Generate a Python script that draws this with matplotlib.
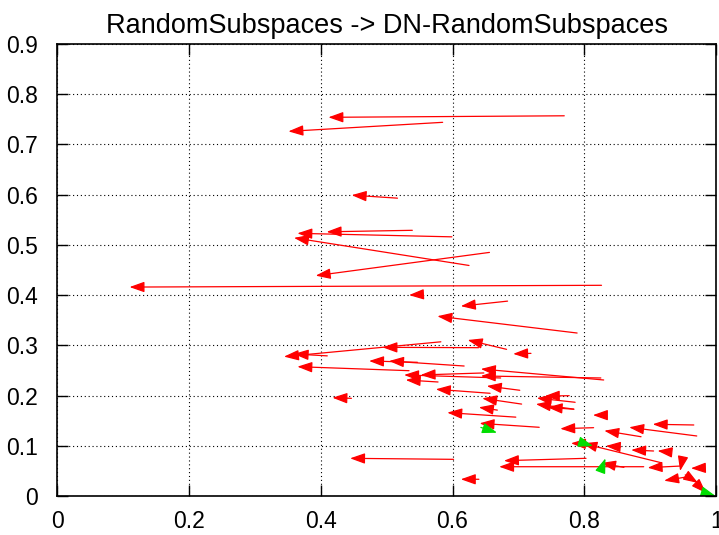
import matplotlib
matplotlib.use("Agg")
import matplotlib.pyplot as plt
from matplotlib.patches import FancyArrowPatch

plt.rcParams['font.family'] = ['Liberation Sans', 'DejaVu Sans']

# score before (tail) and after (head) for each dataset
red_x0 = [0.7695, 0.585, 0.5165, 0.539, 0.599, 0.625, 0.656, 0.826, 0.548, 0.6835,
          0.789, 0.682, 0.719, 0.6395, 0.5823, 0.410, 0.534, 0.6176, 0.5468, 0.8293,
          0.825, 0.6475, 0.673, 0.578, 0.657, 0.702, 0.777, 0.786, 0.784, 0.784,
          0.7048, 0.668, 0.696, 0.7315, 0.8325, 0.814, 0.886, 0.9705, 0.966, 0.810,
          0.9164, 0.855, 0.905, 0.925, 0.8025, 0.860, 0.890, 0.9467, 0.948, 0.977,
          0.957, 0.953, 0.977, 0.640, 0.6016, 0.4466]
red_y0 = [0.757, 0.744, 0.593, 0.529, 0.516, 0.459, 0.485, 0.4195, 0.401, 0.388,
          0.3245, 0.292, 0.284, 0.2953, 0.307, 0.279, 0.2495, 0.2588, 0.2662, 0.231,
          0.235, 0.245, 0.235, 0.227, 0.2045, 0.2105, 0.1997, 0.1866, 0.173, 0.1727,
          0.183, 0.171, 0.157, 0.1368, 0.161, 0.136, 0.118, 0.1195, 0.1414, 0.1035,
          0.0663, 0.0976, 0.0896, 0.088, 0.075, 0.057, 0.0583, 0.0597, 0.0677, 0.0558,
          0.0384, 0.042, 0.016, 0.0333, 0.073, 0.1945]
red_x1 = [0.4117, 0.351, 0.447, 0.409, 0.3646, 0.3595, 0.3924, 0.110, 0.534, 0.6126,
          0.577, 0.623, 0.692, 0.4937, 0.3443, 0.359, 0.3646, 0.5037, 0.4734, 0.643,
          0.643, 0.5516, 0.5265, 0.529, 0.5747, 0.652, 0.740, 0.728, 0.7265, 0.7443,
          0.645, 0.640, 0.592, 0.641, 0.813, 0.7634, 0.8302, 0.868, 0.9037, 0.7797,
          0.797, 0.8325, 0.871, 0.911, 0.678, 0.8253, 0.6707, 0.896, 0.9452, 0.9617,
          0.921, 0.9725, 0.9845, 0.6126, 0.4446, 0.4178]
red_y1 = [0.754, 0.726, 0.599, 0.526, 0.523, 0.514, 0.4387, 0.416, 0.400, 0.378,
          0.358, 0.3106, 0.283, 0.296, 0.2775, 0.2828, 0.2575, 0.2688, 0.2688, 0.2529,
          0.239, 0.241, 0.241, 0.231, 0.2125, 0.219, 0.199, 0.195, 0.183, 0.1766,
          0.1945, 0.1766, 0.166, 0.1447, 0.161, 0.134, 0.130, 0.1368, 0.1428, 0.1049,
          0.1049, 0.0996, 0.0916, 0.090, 0.0703, 0.0657, 0.0583, 0.0564, 0.0498, 0.0552,
          0.0305, 0.0259, 0.006, 0.0333, 0.075, 0.1957]

green_x0 = [0.643, 0.7995, 0.830, 0.989]
green_y0 = [0.1366, 0.1049, 0.068, 0.004]
green_x1 = [0.6675, 0.813, 0.832, 0.999]
green_y1 = [0.126, 0.0995, 0.075, 0.0]

xticks = [0, 0.2, 0.4, 0.6, 0.8, 1]
xticklabels = ['0', '0.2', '0.4', '0.6', '0.8', '1']
yticks = [0, 0.1, 0.2, 0.3, 0.4, 0.5, 0.6, 0.7, 0.8, 0.9]
yticklabels = ['0', '0.1', '0.2', '0.3', '0.4', '0.5', '0.6', '0.7', '0.8', '0.9']

fig = plt.figure(figsize=(7.19, 5.35), dpi=100)
ax = fig.add_axes([0.0793, 0.0729, 0.9168, 0.8449])


def draw_arrows(x0, y0, x1, y1, col):
    for a, b, c, d in zip(x0, y0, x1, y1):
        arr = FancyArrowPatch((a, b), (c, d),
                              arrowstyle='-|>,head_length=0.9,head_width=0.32',
                              mutation_scale=10, color=col, lw=0.9,
                              shrinkA=0, shrinkB=0)
        ax.add_patch(arr)


draw_arrows(red_x0, red_y0, red_x1, red_y1, '#ff0000')
draw_arrows(green_x0, green_y0, green_x1, green_y1, '#00dd00')

ax.set_xlim(0, 1)
ax.set_ylim(0, 0.9)
ax.set_xticks(xticks)
ax.set_xticklabels(xticklabels)
ax.set_yticks(yticks)
ax.set_yticklabels(yticklabels)
ax.tick_params(direction='in', length=8, width=1, top=True, right=True,
               labelsize=16.5)
ax.tick_params(axis='y', pad=14)
ax.tick_params(axis='x', pad=10)
ax.grid(True, color='black', linestyle=(0, (1, 2.5)), linewidth=0.8)
ax.set_axisbelow(True)
for s in ax.spines.values():
    s.set_linewidth(1.2)

ax.set_title('RandomSubspaces -> DN-RandomSubspaces', fontsize=19.5, pad=8)

fig.savefig('out.png', dpi=100)
